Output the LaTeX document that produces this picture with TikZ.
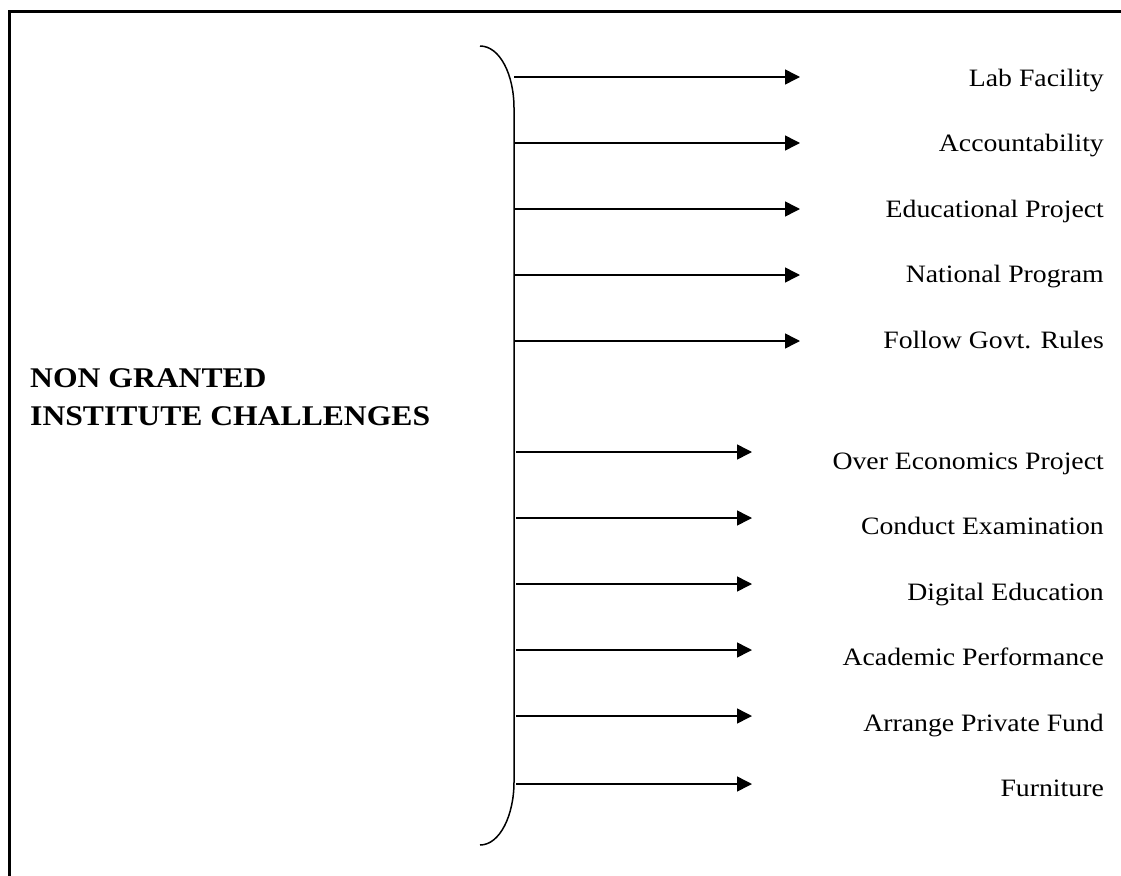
\documentclass[tikz,border=0pt]{standalone}
\usepackage{fontspec}
\setmainfont{Liberation Serif}
\usetikzlibrary{arrows.meta}
\begin{document}
\begin{tikzpicture}[x=1pt,y=-1pt,
  lbl/.style={anchor=base east, inner sep=0pt, font=\fontsize{25}{30}\selectfont},
  ttl/.style={anchor=base west, inner sep=0pt, font=\fontsize{28.5}{34}\selectfont\bfseries},
  arr/.style={line width=1.5pt, -{Triangle[length=15pt,width=15pt]}},
  frame/.style={line width=2.5pt},
  bracestyle/.style={line width=1.5pt}]
\useasboundingbox (0,0) rectangle (1121,875);
\draw[frame] (1130,11.5) -- (9.5,11.5) -- (9.5,885);
\draw[bracestyle] (480,46) .. controls (500,46) and (514,75) .. (514,108) -- (514,782) .. controls (514,815) and (500,845) .. (480,845);
\node[ttl] (t1) at (30,387) {\scalebox{1.11}[1]{NON GRANTED}};
\node[ttl] (t2) at (30,425) {\scalebox{1.11}[1]{INSTITUTE CHALLENGES}};
\foreach \ay/\by/\txt [count=\i] in {77/86/Lab Facility, 143/151.5/Accountability, 209/217/Educational Project, 275/282.5/National Program, 341/348/Follow Govt. Rules}{
  \coordinate (s\i) at (514,\ay);
  \coordinate (e\i) at (800,\ay);
  \node[lbl] (l\i) at (1104,\by) {\scalebox{1.11}[1]{\txt}};
  \draw[arr] (s\i) -- (e\i);
}
\foreach \ay/\by/\txt [count=\i] in {452/469/Over Economics Project, 518/534.5/Conduct Examination, 584/600/Digital Education, 650/665.5/Academic Performance, 716/731/Arrange Private Fund, 784/796.5/Furniture}{
  \coordinate (ls\i) at (516,\ay);
  \coordinate (le\i) at (752,\ay);
  \node[lbl] (m\i) at (1104,\by) {\scalebox{1.11}[1]{\txt}};
  \draw[arr] (ls\i) -- (le\i);
}
\end{tikzpicture}
\end{document}
